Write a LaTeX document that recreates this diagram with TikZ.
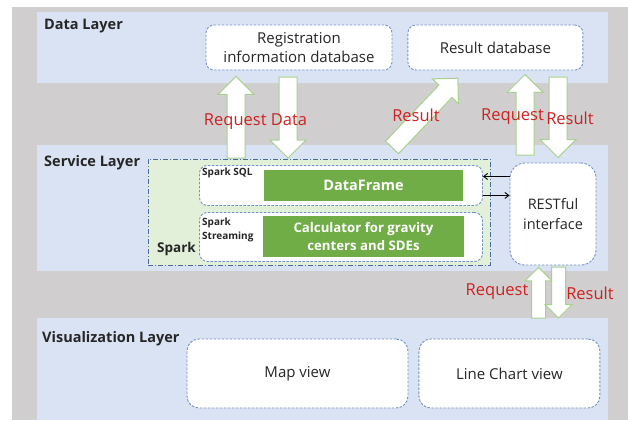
\documentclass[tikz,border=0pt]{standalone}
\usepackage{fontspec}
\setmainfont{Open Sans}
\usetikzlibrary{arrows.meta,positioning,calc,shapes.arrows}
\definecolor{ink}{HTML}{262626}
\definecolor{canvasgray}{HTML}{D0CECE}
\definecolor{layerblue}{HTML}{DAE3F3}
\definecolor{sparkfill}{HTML}{E2F0D9}
\definecolor{dashblue}{HTML}{7390C4}
\definecolor{sparkline}{HTML}{4A6A9E}
\definecolor{opgreen}{HTML}{70AD47}
\definecolor{arrowgreen}{HTML}{A9D18E}
\definecolor{labelred}{HTML}{CC2222}
\tikzset{
  layer/.style={fill=layerblue, anchor=north west, inner sep=0pt},
  layertitle/.style={anchor=west, inner sep=0pt, text=ink, font=\bfseries\fontsize{14.5}{17}\selectfont},
  store/.style={draw=dashblue, fill=white, dash pattern=on 2.5pt off 1.5pt, line width=0.9pt, rounded corners=8pt, inner sep=0pt, align=center, text=ink, font=\fontsize{15}{19}\selectfont},
  module/.style={draw=dashblue, fill=white, dash pattern=on 2.5pt off 1.5pt, line width=0.9pt, rounded corners=8pt, inner sep=0pt, anchor=north west},
  opbox/.style={fill=opgreen, inner sep=0pt, align=center, text=white, font=\bfseries\fontsize{13.2}{18}\selectfont},
  tinytag/.style={anchor=west, inner sep=0pt, align=left, text=ink, font=\bfseries\fontsize{10}{14}\selectfont},
  flowlabel/.style={inner sep=0pt, text=labelred, font=\fontsize{16.5}{19}\selectfont},
  linkarrow/.style={-{Straight Barb[length=4pt,width=6pt]}, line width=0.9pt, draw=black},
  fatarrow/.style={single arrow, draw=arrowgreen, fill=white, line width=1pt, inner xsep=0pt, inner ysep=8.5pt, minimum width=0pt, single arrow head extend=9pt, single arrow tip angle=90, outer sep=0pt},
  smallfat/.style={fatarrow, inner ysep=6.5pt, single arrow head extend=6.5pt},
  blockarrow/.style={to path={let \p1=(\tikztostart), \p2=(\tikztotarget), \n1={veclen(\x2-\x1,\y2-\y1)}, \n2={atan2(\y2-\y1,\x2-\x1)} in node[#1, anchor=tail, rotate=\n2, minimum height=\n1] at (\p1) {}}}
}

\begin{document}
\begin{tikzpicture}[x=1pt, y=-1pt]
  \useasboundingbox (0,0) rectangle (628,420);
  \fill[canvasgray] (12,7) rectangle (628,420);

  % three layers
  \node[layer, minimum width=571pt, minimum height=71pt] (datalayer) at (37,12) {};
  \node[layer, minimum width=571pt, minimum height=126pt] (servicelayer) at (37,145) {};
  \node[layer, minimum width=571pt, minimum height=102pt] (vislayer) at (37,318) {};
  \node[layertitle] (datatitle) at (44,26) {Data Layer};
  \node[layertitle] (servicetitle) at (44,163) {Service Layer};
  \node[layertitle] (vistitle) at (42,339) {Visualization Layer};

  % data layer
  \node[store, minimum width=186pt, minimum height=45pt] (reg) at (299,47.5) {Registration\\information database};
  \node[store, minimum width=175pt, minimum height=45pt, right=15pt of reg] (resdb) {Result database};

  % service layer
  \node[fill=sparkfill, draw=sparkline, line width=0.8pt, dash pattern=on 5pt off 2pt on 1pt off 2pt, anchor=north west, inner sep=0pt, minimum width=342pt, minimum height=106pt] (spark) at (148,159) {};
  \node[anchor=west, inner sep=0pt, text=ink, font=\bfseries\fontsize{13.5}{15}\selectfont] (sparktitle) at (157,249) {Spark};
  \node[module, minimum width=283pt, minimum height=40pt] (sql) at (199,165) {};
  \node[module, minimum width=283pt, minimum height=49pt] (stream) at (199,212) {};
  \node[tinytag] (sqltag) at (202,173) {Spark SQL};
  \node[tinytag] (streamtag) at (202,230) {Spark\\Streaming};
  \node[opbox, minimum width=199pt, minimum height=31pt, font=\bfseries\fontsize{14.5}{18}\selectfont] (dataframe) at (363.5,185.5) {DataFrame};
  \node[opbox, minimum width=201pt, minimum height=41pt] (calc) at (363.5,236.5) {Calculator for gravity\\centers and SDEs};
  \node[store, rounded corners=15pt, minimum width=86pt, minimum height=102pt, font=\fontsize{14.5}{20}\selectfont] (rest) at (553,214) {RESTful\\interface};

  \draw[linkarrow] ([yshift=9pt]sql.east -| rest.west) -- ([yshift=9pt]sql.east);
  \draw[linkarrow] ([yshift=-10pt]sql.east) -- ([yshift=-10pt]sql.east -| rest.west);

  % visualization layer
  \node[store, rounded corners=12pt, minimum width=221pt, minimum height=69pt] (map) at (297.5,373.5) {Map view};
  \node[store, rounded corners=12pt, minimum width=181pt, minimum height=69pt, right=10pt of map] (chart) {Line Chart view};

  % fat arrows between the layers
  \coordinate (reqfoot) at (236,158);
  \coordinate (reqtip) at ([yshift=-6pt]reg.south -| reqfoot);
  \coordinate (datafoot) at (288,77);
  \coordinate (datatip) at (288,158);
  \coordinate (resfoot) at (392,147.5);
  \coordinate (restip) at (458,78);
  \coordinate (askfoot) at (525,155);
  \coordinate (asktip) at ([yshift=-4pt]resdb.south -| askfoot);
  \coordinate (backfoot) at (558,77);
  \coordinate (backtip) at ([yshift=5pt]rest.north -| backfoot);
  \coordinate (viewfoot) at (538.5,318);
  \coordinate (viewtip) at ([yshift=-2pt]rest.south -| viewfoot);
  \coordinate (showfoot) at (558.5,267);
  \coordinate (showtip) at (558.5,318);

  \path (reqfoot) to[blockarrow=fatarrow] (reqtip);
  \path (datafoot) to[blockarrow=fatarrow] (datatip);
  \path (resfoot) to[blockarrow=fatarrow] (restip);
  \path (askfoot) to[blockarrow=fatarrow] (asktip);
  \path (backfoot) to[blockarrow=fatarrow] (backtip);
  \path (viewfoot) to[blockarrow=smallfat] (viewtip);
  \path (showfoot) to[blockarrow=smallfat] (showtip);

  % red labels on top of the arrows
  \node[flowlabel] (reqdatalabel) at (255.5,122) {Request Data};
  \node[flowlabel] (reslabel) at (416,115) {Result};
  \node[flowlabel] (asklabel) at (512.5,117) {Request};
  \node[flowlabel] (backlabel) at (570,118) {Result};
  \node[flowlabel] (viewlabel) at (497,292) {Request};
  \node[flowlabel] (showlabel) at (590,293) {Result};
\end{tikzpicture}
\end{document}
